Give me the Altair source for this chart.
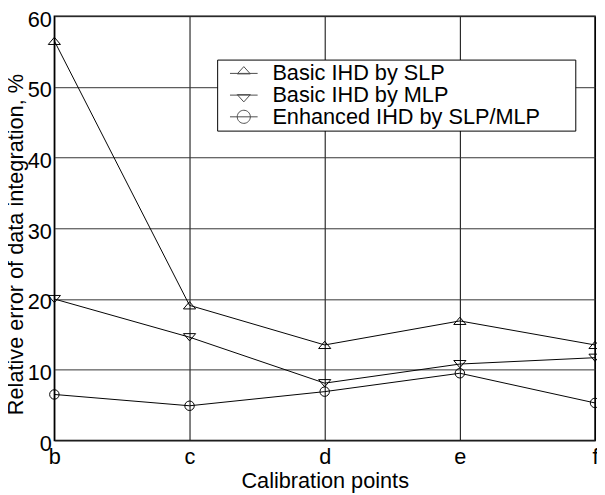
import altair as alt
import pandas as pd

points = ["b", "c", "d", "e", "f"]
series = ["Basic IHD by SLP", "Basic IHD by MLP", "Enhanced IHD by SLP/MLP"]
slp = [56.5, 19.1, 13.5, 16.9, 13.5]
mlp = [20.0, 14.6, 8.1, 10.8, 11.7]
enh = [6.5, 4.9, 6.9, 9.5, 5.3]
y_ticks = [0, 10, 20, 30, 40, 50, 60]

rows = []
for name, vals in zip(series, [slp, mlp, enh]):
    for p, v in zip(points, vals):
        rows.append({"point": p, "value": v, "series": name})
df = pd.DataFrame(rows)

FONT = "Liberation Sans"
FS = 22

x = alt.X(
    "point:N",
    sort=points,
    scale=alt.Scale(type="point", padding=0),
    axis=alt.Axis(
        title="Calibration points", labelAngle=0, grid=True, ticks=False,
        domain=False, labelFontSize=FS, titleFontSize=FS, labelPadding=6,
        titlePadding=4, labelFont=FONT, titleFont=FONT, labelColor="black",
        titleColor="black", titleFontWeight="normal", gridColor="black",
        gridOpacity=1, gridWidth=1,
    ),
)
y = alt.Y(
    "value:Q",
    scale=alt.Scale(domain=[0, 60], nice=False),
    axis=alt.Axis(
        title="Relative error of data integration, %", values=y_ticks,
        grid=True, ticks=False, domain=False, labelFontSize=FS,
        titleFontSize=FS, labelPadding=3, labelOffset=3, titlePadding=0,
        titleY=231, labelFont=FONT,
        titleFont=FONT, labelColor="black", titleColor="black",
        titleFontWeight="normal", gridColor="#333", gridOpacity=1, gridWidth=1,
    ),
)

lines = alt.Chart(df).mark_line(color="black", strokeWidth=1).encode(
    x=x, y=y, detail="series:N"
)

marker_paths = [
    "M0,-0.62L1.03,0.6L-1.03,0.6Z",
    "M0,0.62L1.03,-0.6L-1.03,-0.6Z",
    "M0.8,0A0.8,0.8 0 1 1 -0.8,0A0.8,0.8 0 1 1 0.8,0Z",
]

pts = alt.Chart(df).mark_point(
    filled=False, color="black", size=144, strokeWidth=1, opacity=1
).encode(
    x=x, y=y,
    shape=alt.Shape(
        "series:N",
        scale=alt.Scale(domain=series, range=marker_paths),
        legend=None,
    ),
)

# legend symbols: a short line with the marker, shifted right inside the entry
leg_paths = [
    "M-0.125,0H3.375M1.625,-0.86L2.455,0.06L0.795,0.06Z",
    "M-0.125,0H3.375M1.625,0.86L2.455,-0.06L0.795,-0.06Z",
    "M-0.125,0H3.375M2.455,0A0.83,0.83 0 1 1 0.795,0A0.83,0.83 0 1 1 2.455,0Z",
]

legend_layer = alt.Chart(df).transform_filter("false").mark_point(
    filled=False, color="black", strokeWidth=1
).encode(
    x=x, y=y,
    shape=alt.Shape(
        "series:N",
        scale=alt.Scale(domain=series, range=leg_paths),
        legend=alt.Legend(
            title=None, orient="none", legendX=165, legendY=44,
            strokeColor="black", fillColor="white", padding=3,
            labelFontSize=FS, labelFont=FONT, labelColor="black",
            symbolSize=256, symbolStrokeWidth=1, symbolStrokeColor="black",
            symbolFillColor="transparent", rowPadding=-2, labelOffset=31,
            labelLimit=0,
            labelExpr="datum.label + '\u2800\u2800'",
        ),
    ),
)

chart = alt.layer(lines, pts, legend_layer).resolve_scale(
    shape="independent"
).properties(
    width=548, height=430,
    autosize=alt.AutoSizeParams(type="none"),
    padding={"left": 47, "top": 5, "right": 2, "bottom": 50},
).configure_view(
    stroke="black", strokeWidth=1.5
)

chart.save("out.html", embed_options={"renderer": "svg", "actions": False})
